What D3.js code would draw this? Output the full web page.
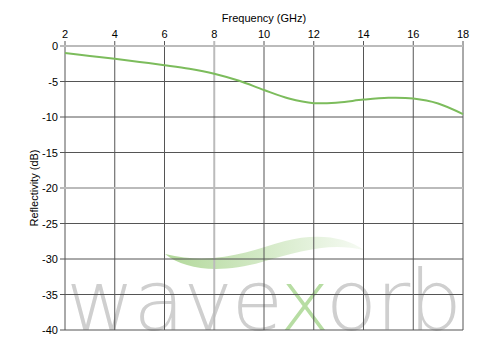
<!DOCTYPE html>
<html>
<head>
<meta charset="utf-8">
<script src="https://cdn.jsdelivr.net/npm/d3@7"></script>
<style>
  body { margin: 0; background: #fff; }
  svg { display: block; font-family: "Liberation Sans", Arial, sans-serif; }
</style>
</head>
<body>
<svg width="500" height="350"></svg>
<script>
// frequency (GHz) and reflectivity (dB)
const freq = [2, 3, 4, 5, 6, 7, 8, 9, 10, 11, 12, 13, 14, 15, 16, 17, 18];
const refl = [-1.0, -1.4, -1.8, -2.25, -2.7, -3.2, -3.9, -4.9, -6.2, -7.4, -8.05, -7.95, -7.55, -7.3, -7.4, -8.1, -9.6];
const xTicks = [2, 4, 6, 8, 10, 12, 14, 16, 18];
const yTicks = [0, -5, -10, -15, -20, -25, -30, -35, -40];
const lightX = [8];
const lightY = [0, -20];

const svg = d3.select("svg");
const x = d3.scaleLinear().domain([2, 18]).range([65, 463]);
const y = d3.scaleLinear().domain([-40, 0]).range([330, 46]);

// watermark
const defs = svg.append("defs");
const grad = defs.append("linearGradient").attr("id", "swoosh");
grad.append("stop").attr("offset", "0%").attr("stop-color", "#a9d48f").attr("stop-opacity", 0.9);
grad.append("stop").attr("offset", "100%").attr("stop-color", "#a9d48f").attr("stop-opacity", 0.1);

svg.append("path")
  .attr("fill", "url(#swoosh)")
  .attr("d", "M165,254 C185,270 220,274 262,262 C300,251 330,242 364,250 C345,236 315,233 285,241 C250,251 215,266 165,254 Z");

const mark = svg.append("text")
  .attr("x", 66)
  .attr("y", 330)
  .attr("font-family", "DejaVu Sans ExtraLight, DejaVu Sans")
  .attr("font-weight", 200)
  .attr("font-size", 84)
  .attr("fill", "#cfcfcf");
mark.append("tspan").text("wave");
mark.append("tspan").attr("fill", "#b7dda3").text("x");
mark.append("tspan").text("orb");
const natural = mark.node().getComputedTextLength();
mark.attr("letter-spacing", (396 - natural) / 7);

// grid
const grid = svg.append("g");
grid.selectAll("line.v")
  .data(xTicks).enter()
  .append("line")
  .attr("x1", d => x(d)).attr("x2", d => x(d))
  .attr("y1", 41).attr("y2", y(-40))
  .attr("stroke", d => lightX.includes(d) ? "#bbb" : "#555")
  .attr("stroke-width", d => lightX.includes(d) ? 2 : 1);
grid.selectAll("line.h")
  .data(yTicks).enter()
  .append("line")
  .attr("x1", 60).attr("x2", x(18))
  .attr("y1", d => y(d)).attr("y2", d => y(d))
  .attr("stroke", d => lightY.includes(d) ? "#bbb" : "#555")
  .attr("stroke-width", d => lightY.includes(d) ? 2 : 1);

// tick labels
svg.append("g")
  .selectAll("text")
  .data(xTicks).enter()
  .append("text")
  .attr("x", d => x(d))
  .attr("y", 38)
  .attr("text-anchor", "middle")
  .attr("font-size", 11)
  .attr("fill", "#000")
  .text(d => d);
svg.append("g")
  .selectAll("text")
  .data(yTicks).enter()
  .append("text")
  .attr("x", 58)
  .attr("y", d => y(d) + 4)
  .attr("text-anchor", "end")
  .attr("font-size", 11)
  .attr("fill", "#000")
  .text(d => d);

svg.append("text")
  .attr("x", 264).attr("y", 22)
  .attr("text-anchor", "middle")
  .attr("font-size", 11)
  .text("Frequency (GHz)");
svg.append("text")
  .attr("transform", "translate(38,188) rotate(-90)")
  .attr("text-anchor", "middle")
  .attr("font-size", 11)
  .text("Reflectivity (dB)");

// curve
const line = d3.line()
  .x((d, i) => x(freq[i]))
  .y(d => y(d))
  .curve(d3.curveCatmullRom);
svg.append("path")
  .datum(refl)
  .attr("fill", "none")
  .attr("stroke", "#7cbc5c")
  .attr("stroke-width", 2)
  .attr("d", line);
</script>
</body>
</html>
